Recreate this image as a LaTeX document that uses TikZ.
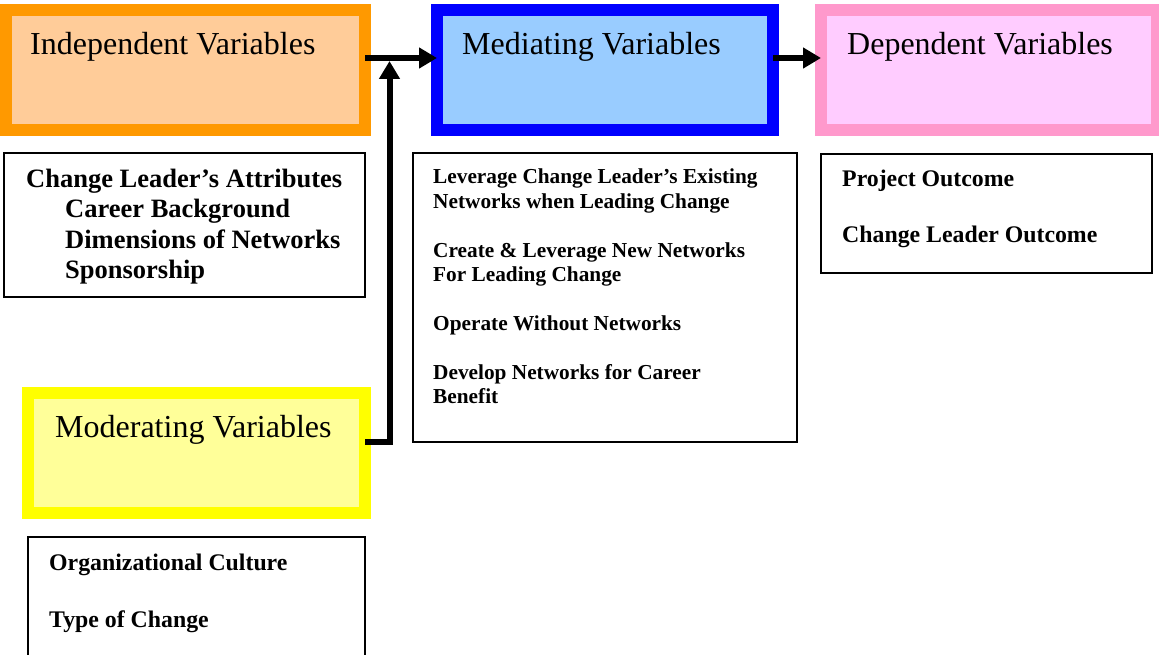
\documentclass[tikz,border=0pt]{standalone}
\usepackage{fontspec}
\setmainfont{Liberation Serif}
\usetikzlibrary{arrows.meta}

\definecolor{indborder}{HTML}{FF9900}
\definecolor{indfill}{HTML}{FFCC99}
\definecolor{medborder}{HTML}{0000FF}
\definecolor{medfill}{HTML}{99CCFF}
\definecolor{depborder}{HTML}{FF99CC}
\definecolor{depfill}{HTML}{FFCCFF}
\definecolor{modborder}{HTML}{FFFF00}
\definecolor{modfill}{HTML}{FFFF99}

\tikzset{
  varbox/.style={rectangle, line width=12pt, outer sep=0pt, inner sep=0pt,
    minimum width=#1, minimum height=120pt},
  listbox/.style={rectangle, draw=black, line width=1.3pt, outer sep=0pt, inner sep=0pt},
  title/.style={anchor=base west, inner sep=0pt, font=\fontsize{32}{37}\selectfont},
  bigitem/.style={anchor=base west, inner sep=0pt, font=\fontsize{26.5}{30}\selectfont\bfseries},
  miditem/.style={anchor=base west, inner sep=0pt, font=\fontsize{23.8}{27}\selectfont\bfseries},
  smallitem/.style={anchor=base west, inner sep=0pt, font=\fontsize{21.3}{24.5}\selectfont\bfseries},
  conn/.style={line width=6pt, black, -{Triangle[length=18pt,width=20pt]}}
}

\begin{document}
\begin{tikzpicture}[x=1pt,y=-1pt]
\useasboundingbox (0,0) rectangle (1159,655);

% coloured variable boxes
\node[varbox=359pt, draw=indborder, fill=indfill] (ind) at (185.5,70) {};
\node[varbox=336pt, draw=medborder, fill=medfill] (med) at (605,70) {};
\node[varbox=336pt, draw=depborder, fill=depfill] (dep) at (989,70) {};
\node[varbox=337pt, draw=modborder, fill=modfill] (mod) at (196.5,453) {};

\node[title] (indtitle) at (30,55) {Independent Variables};
\node[title] (medtitle) at (462,55) {Mediating Variables};
\node[title] (deptitle) at (847,55) {Dependent Variables};
\node[title] (modtitle) at (55,437) {Moderating Variables};

% lists of variables
\node[listbox, minimum width=361pt, minimum height=144pt] (attrbox) at (184.5,225) {};
\node[bigitem] (a1) at (26,188) {Change Leader’s Attributes};
\node[bigitem] (a2) at (65,218) {Career Background};
\node[bigitem] (a3) at (65,248) {Dimensions of Networks};
\node[bigitem] (a4) at (65,278) {Sponsorship};

\node[listbox, minimum width=384pt, minimum height=289pt] (medbox) at (605,297.5) {};
\node[smallitem] (m1) at (433,184) {Leverage Change Leader’s Existing};
\node[smallitem] (m2) at (433,208.5) {Networks when Leading Change};
\node[smallitem] (m3) at (433,257) {Create \& Leverage New Networks};
\node[smallitem] (m4) at (433,281.5) {For Leading Change};
\node[smallitem] (m5) at (433,330) {Operate Without Networks};
\node[smallitem] (m6) at (433,379) {Develop Networks for Career};
\node[smallitem] (m7) at (433,403.5) {Benefit};

\node[listbox, minimum width=331pt, minimum height=119pt] (depbox) at (986.5,213.5) {};
\node[miditem] (d1) at (842,187) {Project Outcome};
\node[miditem] (d2) at (842,243) {Change Leader Outcome};

\node[listbox, minimum width=337pt, minimum height=133pt] (orgbox) at (196.5,603.5) {};
\node[miditem] (o1) at (49,570) {Organizational Culture};
\node[miditem] (o2) at (49,627) {Type of Change};

% connectors
\coordinate (jn) at (389.5,61);
\draw[conn] ([yshift=12pt]ind.east) -- ([yshift=12pt]med.west);
\draw[conn] ([yshift=12pt]med.east) -- ([yshift=12pt]dep.west);
\draw[conn] ([yshift=11pt]mod.east) -| (jn);
\end{tikzpicture}
\end{document}
